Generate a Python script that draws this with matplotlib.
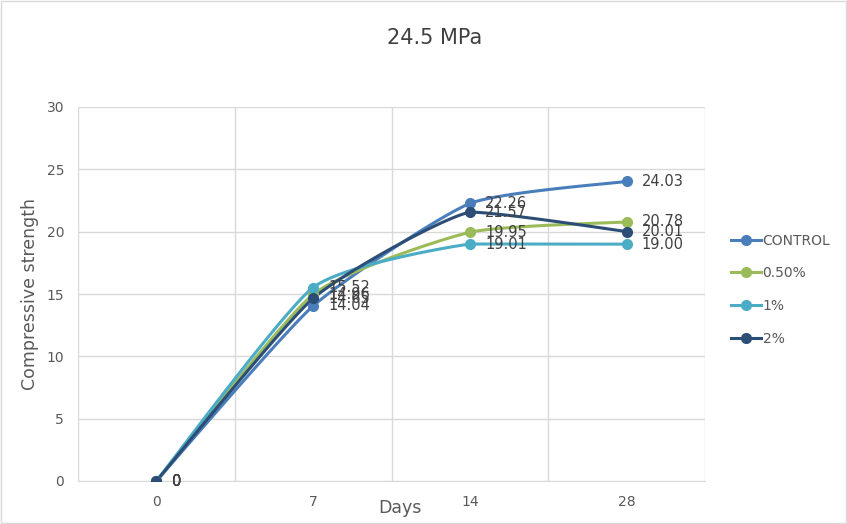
import numpy as np
import matplotlib
matplotlib.use("Agg")
import matplotlib.pyplot as plt
from matplotlib.patches import Rectangle

days = ["0", "7", "14", "28"]
control = [0, 14.04, 22.26, 24.03]
p050 = [0, 14.96, 19.95, 20.78]
p1 = [0, 15.52, 19.01, 19.00]
p2 = [0, 14.65, 21.57, 20.01]
series_names = ["CONTROL", "0.50%", "1%", "2%"]
series_vals = [control, p050, p1, p2]
colors = ["#4a7ebb", "#9bbb59", "#4bacc6", "#2c4d75"]
yticks = [0, 5, 10, 15, 20, 25, 30]

fig = plt.figure(figsize=(8.47, 5.24), dpi=100)
fig.patches.append(Rectangle((0.001, 0.001), 0.998, 0.998, transform=fig.transFigure,
                             fill=False, edgecolor="#d9d9d9", lw=1))
ax = fig.add_axes([78/847, 1-481/524, (705-78)/847, (481-107)/524])

def smooth(x, y, n=40, f=1/11):
    # Bezier smoothing similar to spreadsheet "smoothed line", with overshoot clamp
    x = np.asarray(x, float); y = np.asarray(y, float)
    px = np.concatenate([[x[0]], x, [x[-1]]])
    py = np.concatenate([[y[0]], y, [y[-1]]])
    xs, ys = [], []
    for i in range(1, len(px) - 2):
        p0 = np.array([px[i-1], py[i-1]]); a = np.array([px[i], py[i]])
        b = np.array([px[i+1], py[i+1]]); p3 = np.array([px[i+2], py[i+2]])
        c1 = a + (b - p0) * f
        c2 = b - (p3 - a) * f
        lo, hi = min(a[1], b[1]), max(a[1], b[1])
        c1[1] = np.clip(c1[1], lo, hi)
        c2[1] = np.clip(c2[1], lo, hi)
        t = np.linspace(0, 1, n)[:, None]
        pts = (1-t)**3*a + 3*(1-t)**2*t*c1 + 3*(1-t)*t**2*c2 + t**3*b
        xs.append(pts[:, 0]); ys.append(pts[:, 1])
    return np.concatenate(xs), np.concatenate(ys)

xpos = np.arange(len(days))
sy = 157/12.47
for name, vals, c in zip(series_names, series_vals, colors):
    sx_, sy_ = smooth(xpos, np.array(vals) / sy)
    ax.plot(sx_, sy_ * sy, color=c, lw=2.2, zorder=3, solid_capstyle="round")
    ax.plot(xpos, vals, 'o', color=c, ms=7, zorder=4)
    ax.plot([], [], '-o', color=c, lw=2.2, ms=7, label=name)

for name, vals in zip(series_names, series_vals):
    for i, v in enumerate(vals):
        txt = "0" if v == 0 else f"{v:.2f}"
        ax.annotate(txt, (xpos[i], v), xytext=(11, 0), textcoords="offset points",
                    va="center", ha="left", fontsize=10.5, color="#404040", zorder=5)

ax.set_xlim(-0.5, 3.5)
ax.set_ylim(0, 30)
ax.set_yticks(yticks)
ax.set_xticks(xpos)
ax.set_xticklabels(days)
ax.set_xticks([-0.5, 0.5, 1.5, 2.5, 3.5], minor=True)
ax.grid(True, which="minor", axis="x", color="#d9d9d9", lw=1)
ax.grid(True, which="major", axis="y", color="#d9d9d9", lw=1)
ax.set_axisbelow(True)
for s in ["top", "right", "left"]:
    ax.spines[s].set_visible(False)
ax.spines["bottom"].set_color("#d9d9d9")
ax.tick_params(axis="both", which="both", length=0, labelsize=10, colors="#595959")
ax.tick_params(axis="x", pad=10)
ax.tick_params(axis="y", pad=10)

fig.text(435/847, 1-38/524, "24.5 MPa", ha="center", va="center", fontsize=15, color="#404040")
fig.text(400/847, 1-508/524, "Days", ha="center", va="center", fontsize=12.5, color="#595959")
fig.text(30/847, 1-294/524, "Compressive strength", ha="center", va="center", fontsize=12.5,
         color="#595959", rotation=90)

leg = fig.legend(loc="upper left", bbox_to_anchor=(725/847, 1-228/524), frameon=False,
                 fontsize=10, labelcolor="#595959", handlelength=2.2, handletextpad=0.1,
                 labelspacing=1.35, borderaxespad=0)

fig.savefig("out.png", dpi=100)
